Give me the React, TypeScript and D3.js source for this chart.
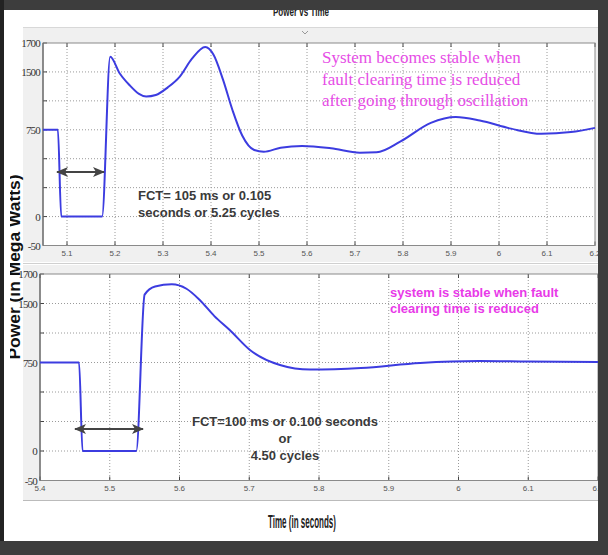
import React from 'react';
import * as d3 from 'd3';

// upper run: fault cleared after 105 ms
const topTime = [5.05, 5.081, 5.088, 5.173, 5.19, 5.21, 5.23, 5.25, 5.265, 5.285, 5.31, 5.335, 5.36, 5.388, 5.405, 5.425, 5.445, 5.465, 5.49, 5.51, 5.545, 5.59, 5.65, 5.71, 5.745, 5.795, 5.858, 5.91, 5.96, 6.025, 6.088, 6.15, 6.2];
const topPower = [750, 750, 0, 0, 1605, 1480, 1330, 1215, 1180, 1200, 1300, 1440, 1590, 1672, 1620, 1400, 1000, 700, 575, 560, 595, 610, 590, 552, 555, 650, 840, 915, 870, 765, 715, 730, 775];

// lower run: fault cleared after 100 ms
const bottomTime = [5.4, 5.456, 5.461, 5.538, 5.55, 5.565, 5.589, 5.61, 5.629, 5.65, 5.672, 5.701, 5.744, 5.787, 5.86, 5.945, 6.03, 6.1, 6.2];
const bottomPower = [750, 750, 0, 0, 1560, 1615, 1630, 1600, 1524, 1340, 1163, 909, 729, 690, 703, 746, 769, 762, 756];

const yTickValues = [-50, 0, 250, 500, 750, 1125, 1500, 1700];
const yTickLabels = ['-50', '0', '', '', '750', '', '1500', '1700'];
const topXTicks = [5.1, 5.2, 5.3, 5.4, 5.5, 5.6, 5.7, 5.8, 5.9, 6.0, 6.1, 6.2];
const bottomXTicks = [5.4, 5.5, 5.6, 5.7, 5.8, 5.9, 6.0, 6.1, 6.2];

interface PanelProps {
  x0: number;
  x1: number;
  y0: number;
  y1: number;
  xDomain: [number, number];
  xTicks: number[];
  time: number[];
  power: number[];
  yLabelX: number;
}

const fmt = d3.format('~g');

const Panel = (p: PanelProps) => {
  const x = d3.scaleLinear().domain(p.xDomain).range([p.x0, p.x1]);
  const step = (p.y1 - p.y0) / (yTickValues.length - 1);
  // tick positions are evenly spaced although the labels are not
  const y = d3.scaleLinear()
    .domain(yTickValues)
    .range(yTickValues.map((_, i) => p.y1 - i * step));

  const line = d3.line<number>()
    .x((_, i) => x(p.time[i]))
    .y(d => y(d))
    .curve(d3.curveMonotoneX);

  return (
    <g>
      <rect x={p.x0} y={p.y0} width={p.x1 - p.x0} height={p.y1 - p.y0} fill="#fff" />
      {yTickValues.map((v, i) => (
        (i > 0 && i < yTickValues.length - 1) ?
          <line key={'hy' + i} x1={p.x0} x2={p.x1} y1={y(v)} y2={y(v)}
            stroke="#9a9a9a" strokeDasharray="1,2" /> : null
      ))}
      {p.xTicks.map(t => (
        (x(t) > p.x0 + 2 && x(t) < p.x1 - 2) ?
          <line key={'gx' + t} x1={x(t)} x2={x(t)} y1={p.y0} y2={p.y1}
            stroke="#9a9a9a" strokeDasharray="1,2" /> : null
      ))}
      {p.xTicks.map(t => (
        <g key={'tx' + t}>
          <line x1={x(t)} x2={x(t)} y1={p.y1} y2={p.y1 - 4} stroke="#444" />
          <line x1={x(t)} x2={x(t)} y1={p.y0} y2={p.y0 + 4} stroke="#444" />
          <text x={x(t)} y={p.y1 + 10} fontSize={8} fill="#555" textAnchor="middle"
            fontFamily="Liberation Sans, Arial, sans-serif">{fmt(t)}</text>
        </g>
      ))}
      {yTickValues.map((v, i) => (
        <g key={'ty' + i}>
          <line x1={p.x0} x2={p.x0 + 4} y1={y(v)} y2={y(v)} stroke="#444" />
          <text x={p.yLabelX} y={y(v) + 4} fontSize={11} fill="#333" textAnchor="end"
            letterSpacing={-0.8}
            fontFamily="Liberation Serif, Times New Roman, serif">{yTickLabels[i]}</text>
        </g>
      ))}
      <rect x={p.x0} y={p.y0} width={p.x1 - p.x0} height={p.y1 - p.y0}
        fill="none" stroke="#8a8a8a" />
      <line x1={p.x0} x2={p.x0} y1={p.y0} y2={p.y1} stroke="#555" />
      <path d={line(p.power) ?? ''} fill="none" stroke="#3c3ce0" strokeWidth={2}
        strokeLinejoin="round" />
    </g>
  );
};

const App = () => {
  const sans = 'Liberation Sans, Arial, sans-serif';
  return (
    <svg width={608} height={555} style={{ position: 'absolute', left: 0, top: 0 }}>
      <defs>
        <marker id="ah" viewBox="0 0 12 10" refX={11} refY={5} markerWidth={12} markerHeight={10}
          markerUnits="userSpaceOnUse" orient="auto-start-reverse">
          <path d="M0,0 L12,5 L0,10 L3,5 Z" fill="#444" />
        </marker>
        <clipPath id="leftClip">
          <rect x={10} y={0} width={20} height={555} />
        </clipPath>
      </defs>
      <rect x={0} y={0} width={608} height={555} fill="#fff" />

      {/* figure backgrounds */}
      <rect x={23} y={27} width={575} height={235} fill="#f0f0f0" />
      <line x1={23} x2={598} y1={27.5} y2={27.5} stroke="#d8d8d8" />
      <line x1={23} x2={598} y1={263.5} y2={263.5} stroke="#d0d0d0" />
      <rect x={23} y={265} width={575} height={235} fill="#f0f0f0" />
      <line x1={23} x2={598} y1={500.5} y2={500.5} stroke="#bbb" />
      <path d="M302,31 L305,34 L308,31" fill="none" stroke="#999" />

      <Panel x0={43} x1={595} y0={43} y1={245.5} xDomain={[5.05, 6.2]} xTicks={topXTicks}
        time={topTime} power={topPower} yLabelX={40} />
      <Panel x0={40} x1={598} y0={274} y1={480.5} xDomain={[5.4, 6.2]} xTicks={bottomXTicks}
        time={bottomTime} power={bottomPower} yLabelX={37} />

      {/* fault clearing arrows */}
      <line x1={57} x2={104} y1={172} y2={172} stroke="#444" strokeWidth={2}
        markerStart="url(#ah)" markerEnd="url(#ah)" />
      <line x1={75} x2={143} y1={429} y2={429} stroke="#444" strokeWidth={2}
        markerStart="url(#ah)" markerEnd="url(#ah)" />

      {/* annotations */}
      <g fontFamily={sans} fontWeight="bold" fontSize={13} fill="#3a3a3a">
        <text x={138} y={200}>FCT= 105 ms or 0.105</text>
        <text x={138} y={217}>seconds or 5.25 cycles</text>
        <text x={285} y={426} textAnchor="middle">FCT=100 ms or 0.100 seconds</text>
        <text x={285} y={443} textAnchor="middle">or</text>
        <text x={285} y={460} textAnchor="middle">4.50 cycles</text>
      </g>
      <g fontFamily="Liberation Serif, Times New Roman, serif" fontSize={17} fill="#e64de6">
        <text x={322} y={63}>System becomes stable when</text>
        <text x={322} y={85}>fault clearing time is reduced</text>
        <text x={322} y={106}>after going through oscillation</text>
      </g>
      <g fontFamily={sans} fontWeight="bold" fontSize={13} fill="#e83ae8">
        <text x={390} y={297}>system is stable when fault</text>
        <text x={390} y={313}>clearing time is reduced</text>
      </g>

      {/* titles */}
      <text x={301} y={16} fontFamily={sans} fontWeight="bold" fontSize={13} fill="#222"
        textAnchor="middle" textLength={56} lengthAdjust="spacingAndGlyphs">Power vs Time</text>
      <text x={302} y={528} fontFamily={sans} fontWeight="bold" fontSize={19} fill="#222"
        textAnchor="middle" textLength={68} lengthAdjust="spacingAndGlyphs">Time (in seconds)</text>
      <g clipPath="url(#leftClip)">
        <text transform="translate(20,267) rotate(-90)" fontFamily={sans} fontWeight="bold"
          fontSize={17} fill="#111" textAnchor="middle" textLength={185}
          lengthAdjust="spacingAndGlyphs">Power (in Mega Watts)</text>
      </g>

      {/* dark frame */}
      <rect x={0} y={0} width={608} height={10} fill="#3d3d3d" />
      <rect x={0} y={0} width={4} height={555} fill="#222" />
      <rect x={598} y={0} width={10} height={555} fill="#3d3d3d" />
      <rect x={0} y={541} width={608} height={14} fill="#3d3d3d" />
    </svg>
  );
};

export default App;
